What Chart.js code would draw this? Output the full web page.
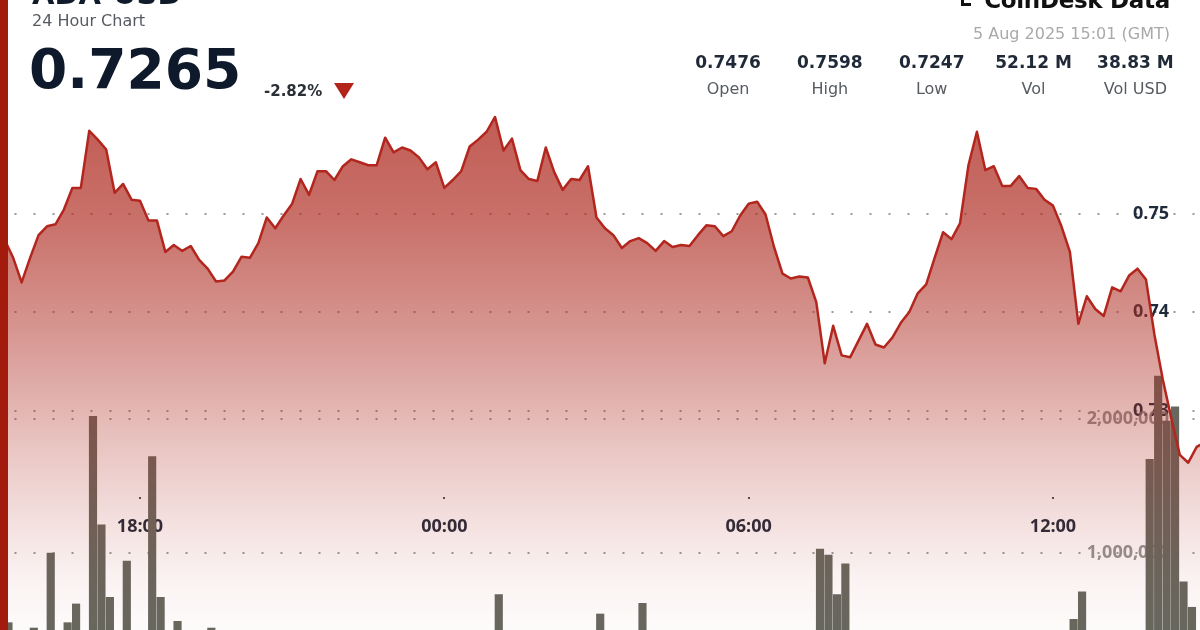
<!DOCTYPE html>
<html>
<head>
<meta charset="utf-8">
<script src="https://cdn.jsdelivr.net/npm/chart.js@4.4.1/dist/chart.umd.min.js"></script>
<style>
html,body{margin:0;padding:0;width:1200px;height:630px;overflow:hidden;background:#fff;}
#wrap{position:relative;width:1200px;height:630px;overflow:hidden;background:#fff;}
#c{position:absolute;left:0;top:0;width:1200px;height:687px;}
.t{position:absolute;white-space:nowrap;font-family:'DejaVu Sans',sans-serif;line-height:1;}
#redbar{position:absolute;left:0;top:0;width:8px;height:630px;background:#a31b0d;}
#title{left:32px;top:-20.5px;font-size:29px;font-weight:bold;color:#0f1a2a;}
#sub{left:32px;top:12.5px;font-size:16px;color:#565b62;}
#price{left:29px;top:41.5px;font-size:55px;font-weight:bold;color:#0e1a2b;}
#chg{left:264px;top:83.8px;font-size:15px;font-weight:bold;color:#2b2f36;}
#tri{position:absolute;left:334px;top:83px;width:0;height:0;border-left:10px solid transparent;border-right:10px solid transparent;border-top:16px solid #b3241b;}
#brand{right:30px;top:-11.5px;font-size:23px;font-weight:bold;color:#111;letter-spacing:-0.3px;}
#logo{position:absolute;left:961px;top:-6px;width:7px;height:9px;border-left:3px solid #111;border-bottom:3px solid #111;}
#date{right:30px;top:25.5px;font-size:16px;color:#a9a9a9;}
#stats{position:absolute;left:677px;top:0;width:520px;height:110px;}
.col{position:absolute;width:102px;text-align:center;}
.val{position:absolute;left:0;width:102px;top:53.6px;font-size:17px;font-weight:bold;color:#1f2937;font-family:'DejaVu Sans',sans-serif;line-height:1;white-space:nowrap;}
.lab{position:absolute;left:0;width:102px;top:80.5px;font-size:16px;color:#565b62;font-family:'DejaVu Sans',sans-serif;line-height:1;white-space:nowrap;}
</style>
</head>
<body>
<div id="wrap">
<canvas id="c" width="1200" height="687"></canvas>
<div class="t" id="title">ADA-USD</div>
<div class="t" id="sub">24 Hour Chart</div>
<div class="t" id="price">0.7265</div>
<div class="t" id="chg">-2.82%</div>
<div id="tri"></div>
<div id="logo"></div>
<div class="t" id="brand">CoinDesk Data</div>
<div class="t" id="date">5 Aug 2025 15:01 (GMT)</div>
<div id="stats"></div>
<div id="redbar"></div>
</div>
<script>
// ---- data ----
const startMinute = 910;      // first point: 15:10 on the previous day (minutes after 00:00 of that day)
const stepMinutes = 10;       // one point every 10 minutes
const barOffsetMinutes = 4.4; // volume bars sit inside each 10-minute interval

const prices = [
  0.7476,0.7473,0.7455,0.7430,0.7455,0.7478,0.7487,0.7489,0.7504,0.7526,
  0.7526,0.7584,0.7575,0.7565,0.7521,0.7530,0.7514,0.7513,0.7493,0.7493,
  0.7461,0.7468,0.7462,0.7467,0.7453,0.7444,0.7431,0.7432,0.7441,0.7456,
  0.7455,0.7470,0.7496,0.7485,0.7498,0.7510,0.7535,0.7519,0.7543,0.7543,
  0.7534,0.7548,0.7555,0.7552,0.7549,0.7549,0.7577,0.7562,0.7567,0.7564,
  0.7557,0.7545,0.7552,0.7526,0.7534,0.7543,0.7568,0.7575,0.7583,0.7598,
  0.7564,0.7576,0.7544,0.7535,0.7533,0.7567,0.7542,0.7524,0.7535,0.7534,
  0.7548,0.7496,0.7485,0.7478,0.7465,0.7472,0.7475,0.7470,0.7462,0.7472,
  0.7466,0.7468,0.7467,0.7478,0.7488,0.7487,0.7477,0.7482,0.7498,0.7510,
  0.7512,0.7499,0.7466,0.7439,0.7434,0.7436,0.7435,0.7410,0.7348,0.7386,
  0.7356,0.7354,0.7371,0.7388,0.7367,0.7364,0.7374,0.7389,0.7400,0.7419,
  0.7428,0.7455,0.7481,0.7474,0.7490,0.7549,0.7583,0.7544,0.7548,0.7528,
  0.7528,0.7538,0.7526,0.7525,0.7514,0.7508,0.7487,0.7461,0.7388,0.7416,
  0.7403,0.7396,0.7425,0.7421,0.7437,0.7444,0.7433,0.7377,0.7331,0.7292,
  0.7255,0.7247,0.7263,0.7268
];

const volumes = [
  310000,480000,260000,350000,440000,210000,1000000,330000,480000,620000,
  380000,2020000,1210000,670000,390000,940000,360000,280000,1720000,670000,
  340000,490000,240000,300000,190000,440000,220000,150000,260000,180000,
  210000,130000,280000,170000,120000,230000,190000,140000,250000,160000,
  110000,200000,150000,90000,130000,180000,320000,210000,140000,170000,
  120000,230000,160000,280000,190000,150000,260000,310000,350000,690000,
  380000,240000,300000,180000,160000,270000,220000,250000,170000,140000,
  200000,545000,360000,230000,190000,150000,625000,260000,180000,120000,
  140000,100000,130000,160000,110000,90000,150000,130000,210000,240000,
  180000,270000,330000,380000,290000,220000,340000,1030000,985000,690000,
  920000,410000,300000,250000,350000,200000,180000,230000,160000,270000,
  210000,320000,280000,190000,240000,390000,360000,310000,220000,260000,
  180000,150000,200000,170000,230000,260000,340000,505000,710000,380000,
  350000,290000,260000,240000,220000,330000,1700000,2320000,1985000,2090000,
  785000,595000,400000,300000
];

const priceTicks = [0.73, 0.74, 0.75];
const volumeTicks = [1000000, 2000000];
const timeTicks = [1080, 1440, 1800, 2160]; // 18:00, 00:00, 06:00, 12:00

const statValues = ['0.7476','0.7598','0.7247','52.12 M','38.83 M'];
const statLabels = ['Open','High','Low','Vol','Vol USD'];

// ---- header stats ----
const stats = document.getElementById('stats');
statValues.forEach((v, i) => {
  const col = document.createElement('div');
  col.className = 'col';
  col.style.left = (i * 101.85) + 'px';
  col.innerHTML = '<div class="val">' + v + '</div><div class="lab">' + statLabels[i] + '</div>';
  stats.appendChild(col);
});

// ---- chart ----
const times = prices.map((_, i) => startMinute + i * stepMinutes);
const linePoints = prices.map((p, i) => ({x: times[i], y: p}));
const barPoints = volumes.map((v, i) => ({x: times[i] + barOffsetMinutes, y: v}));

function fmtTime(v) {
  const m = ((v % 1440) + 1440) % 1440;
  const h = Math.floor(m / 60), mm = m % 60;
  return String(h).padStart(2, '0') + ':' + String(mm).padStart(2, '0');
}
function zeroPad(s) { s.paddingTop = 0; s.paddingBottom = 0; s.paddingLeft = 0; s.paddingRight = 0; }

function fillGradient(context) {
  const chart = context.chart;
  const {ctx, chartArea} = chart;
  if (!chartArea) return 'rgba(175,45,35,0.4)';
  const g = ctx.createLinearGradient(0, 110, 0, 687);
  const stops = [[110,0.78],[220,0.68],[330,0.5],[450,0.27],[520,0.15],[580,0.06],[630,0.02],[687,0]];
  stops.forEach(s => g.addColorStop((s[0] - 110) / 577, 'rgba(175,45,35,' + s[1] + ')'));
  return g;
}

const labelFont = {family: "'Open Sans', sans-serif", size: 18, weight: 'bold'};
const dotted = {display: false, dash: [2, 17], dashOffset: 4.5};
const labelColumn = 2297.2; // x-value where the right-hand tick labels end

new Chart(document.getElementById('c'), {
  data: {
    datasets: [
      {
        type: 'line', label: 'Price', data: linePoints, yAxisID: 'y', xAxisID: 'x', order: 0,
        borderColor: '#b3261e', borderWidth: 2.5, pointRadius: 0, tension: 0,
        borderJoinStyle: 'round', fill: 'start', backgroundColor: fillGradient
      },
      {
        type: 'bar', label: 'Volume', data: barPoints, yAxisID: 'y1', xAxisID: 'x', order: 1,
        backgroundColor: '#66685f', borderWidth: 0, barThickness: 7.5
      }
    ]
  },
  options: {
    responsive: false, maintainAspectRatio: false, animation: false, devicePixelRatio: 1,
    events: [],
    layout: {padding: 0},
    plugins: {legend: {display: false}, tooltip: {enabled: false}},
    scales: {
      x: {
        type: 'linear', axis: 'x', min: 914.4, max: 2333.9, offset: false,
        position: {y: 0.7212},
        afterBuildTicks: s => { s.ticks = timeTicks.map(v => ({value: v})); },
        afterFit: zeroPad,
        grid: {offset: false, drawOnChartArea: false, drawTicks: true, tickLength: 2, lineWidth: 2, color: '#4a4f57'},
        border: {display: false},
        ticks: {padding: 17, font: labelFont, color: '#1f2a3a', maxRotation: 0, autoSkip: false, callback: v => fmtTime(v)}
      },
      y: {
        type: 'linear', axis: 'y', min: 0.70193, max: 0.771675,
        position: {x: labelColumn}, z: 1,
        afterBuildTicks: s => { s.ticks = priceTicks.map(v => ({value: v})); },
        afterFit: zeroPad,
        grid: {drawTicks: false, color: '#9a9a9a', lineWidth: 2},
        border: dotted,
        ticks: {padding: 0, font: labelFont, color: '#1f2a3a', callback: v => v.toFixed(2)}
      },
      y1: {
        type: 'linear', axis: 'y', min: 0, max: 5127000,
        position: {x: labelColumn},
        afterBuildTicks: s => { s.ticks = volumeTicks.map(v => ({value: v})); },
        afterFit: zeroPad,
        grid: {drawTicks: false, color: '#9a9a9a', lineWidth: 2},
        border: dotted,
        ticks: {padding: 0, font: labelFont, color: 'rgba(120,120,120,0.8)', callback: v => v.toLocaleString('en-US')}
      }
    }
  }
});
</script>
</body>
</html>
